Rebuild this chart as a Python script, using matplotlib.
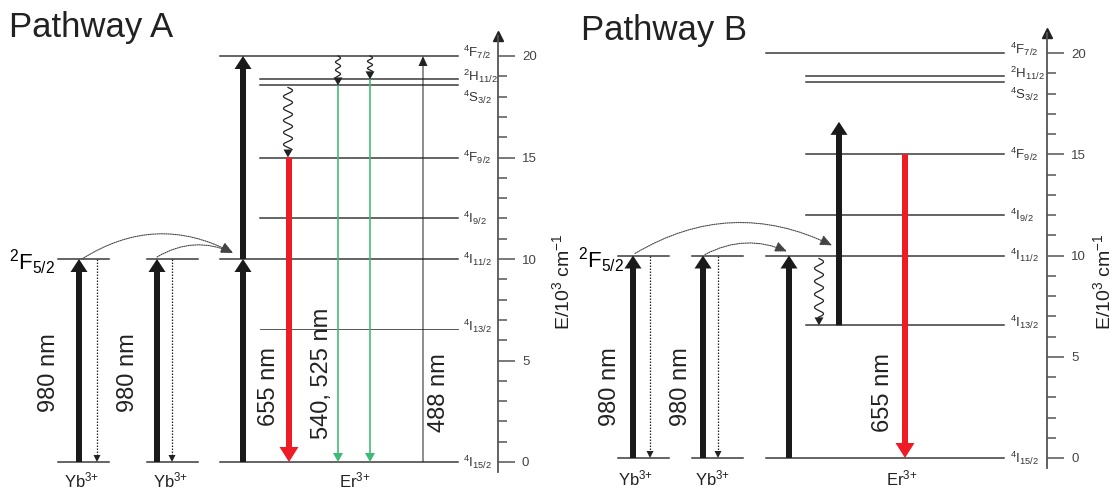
import numpy as np
import matplotlib
matplotlib.use('Agg')
import matplotlib.pyplot as plt
from matplotlib.patches import FancyArrowPatch, ArrowStyle

plt.rcParams['font.family'] = ['Liberation Sans', 'DejaVu Sans']
plt.rcParams['mathtext.fontset'] = 'custom'
plt.rcParams['mathtext.rm'] = 'Liberation Sans'
plt.rcParams['mathtext.it'] = 'Liberation Sans:italic'
plt.rcParams['mathtext.bf'] = 'Liberation Sans:bold'

W, H = 1116, 491
PX = 0.72  # points per pixel at dpi 100

# ---- data: Er3+ levels (10^3 cm^-1) ----
LEVEL_NAMES = [r'$^4$F$_{7/2}$', r'$^2$H$_{11/2}$', r'$^4$S$_{3/2}$', r'$^4$F$_{9/2}$',
               r'$^4$I$_{9/2}$', r'$^4$I$_{11/2}$', r'$^4$I$_{13/2}$', r'$^4$I$_{15/2}$']
LEVEL_E = [20.0, 18.85, 18.55, 15.0, 12.0, 10.0, 6.55, 0.0]
LONG_LEVELS = [0, 5, 7]          # lines drawn wider (reach the Yb side)
LABEL_SHIFT = [0.2, 0.15, -0.6, 0.0, 0.0, 0.0, 0.15, 0.0]

YB_E = 10.0                       # 2F5/2
YB_LABEL = r'$^2$F$_{5/2}$'
ESA_B_TOP = 16.6                  # pathway B ESA arrow end
AXIS_TICKS = [0, 5, 10, 15, 20]
PUMP = '980 nm'
RED = '655 nm'
GREEN = '540, 525 nm'
BLUE = '488 nm'
YB_ION = r'Yb$^{3{+}}$'
ER_ION = r'Er$^{3{+}}$'
E_LABEL = r'E/10$^3$ cm$^{-1}$'

LINE_C = '#3a3a3a'
AXIS_C = '#555555'
RED_C = '#ee1c25'
GREEN_C = '#3dbb75'


def arrow(ax, x, e0, e1, color, tail, hw, hl, z=3):
    st = ArrowStyle.Simple(head_length=hl * PX, head_width=hw * PX, tail_width=max(tail, 0.01) * PX)
    ax.add_patch(FancyArrowPatch((x, e0), (x, e1), arrowstyle=st, mutation_scale=1,
                                 color=color, lw=0, shrinkA=0, shrinkB=0, zorder=z))


def dotted_down(ax, x, e0, e1, ppu):
    hl = 7 / ppu
    ax.plot([x, x], [e0, e1 + hl], ls=(0, (1.2, 1.2)), lw=0.9, color='#222222')
    arrow(ax, x, e1 + hl, e1, '#222222', 0, 7, 7)


def wavy(ax, x, e0, e1, ppu, amp=4.0, period=12.0):
    hl = 8 / ppu
    e = np.linspace(e0, e1 + hl, 300)
    d = np.abs(e - e0) * ppu
    ax.plot(x + amp * np.sin(2 * np.pi * d / period), e, color='#222222', lw=0.9)
    arrow(ax, x, e1 + hl, e1, '#222222', 0, 9, 8)


def arc(ax, p0, p1, rad):
    ax.add_patch(FancyArrowPatch(p0, p1, connectionstyle=f'arc3,rad={rad}',
                                 arrowstyle='-|>,head_length=0.45,head_width=0.2',
                                 mutation_scale=16, ls=(0, (1, 1)), lw=0.8,
                                 color='#444444', shrinkA=0, shrinkB=0, zorder=4))


def setup(fig, x0, x1, zero_px, ppu, axis_x, ylab_x):
    ax = fig.add_axes([x0 / W, 0, (x1 - x0) / W, 1])
    ax.set_xlim(x0, x1)
    ax.set_ylim((zero_px - H) / ppu, zero_px / ppu)
    ax.patch.set_visible(False)
    for s in ['left', 'top', 'bottom']:
        ax.spines[s].set_visible(False)
    ax.set_xticks([])
    ax.yaxis.tick_right()
    sp = ax.spines['right']
    sp.set_position(('data', axis_x))
    sp.set_bounds(-0.5, 21.0)
    sp.set_color(AXIS_C)
    sp.set_linewidth(1.3)
    ax.set_yticks(AXIS_TICKS)
    ax.set_yticks(np.arange(0, 21, 1), minor=True)
    ax.tick_params(axis='y', which='major', length=17 * PX, width=1.1, color=AXIS_C,
                   labelcolor='#444444', labelsize=9.5, pad=7 * PX, direction='out')
    ax.tick_params(axis='y', which='minor', length=9 * PX, width=1.1, color=AXIS_C, direction='out')
    ax.plot([axis_x], [21.0], marker='^', ms=7, color='#222222', clip_on=False)
    ax.text(ylab_x, (zero_px - 282) / ppu, E_LABEL, fontsize=14, rotation=90,
            ha='center', va='center', color='#222222')
    return ax


def er_levels(ax, left, inner, right, label_x, thin=None):
    for i, (name, e) in enumerate(zip(LEVEL_NAMES, LEVEL_E)):
        xs = left if i in LONG_LEVELS else inner
        lw = 0.6 if i == thin else 1.1
        ax.plot([xs, right], [e, e], color=LINE_C, lw=lw)
        ax.text(label_x, e + LABEL_SHIFT[i], name, fontsize=9.5, color='#333333',
                ha='left', va='center')


def yb_column(ax, l, r, ax_x, dot_x, ppu):
    ax.plot([l, r], [0, 0], color=LINE_C, lw=1.1)
    ax.plot([l, r], [YB_E, YB_E], color=LINE_C, lw=1.1)
    arrow(ax, ax_x, 0, YB_E, '#1a1a1a', 6, 17, 13)
    dotted_down(ax, dot_x, YB_E, 0, ppu)


fig = plt.figure(figsize=(W / 100, H / 100), dpi=100)

# ---------------- Pathway A ----------------
ppu = 20.3
a = setup(fig, 0, 558, 462, ppu, 498, 562)
er_levels(a, 220, 260, 458, 463, thin=6)
yb_column(a, 58, 109, 79, 97, ppu)
yb_column(a, 147, 198, 157, 172, ppu)
arrow(a, 243, 0, LEVEL_E[5], '#1a1a1a', 6, 17, 13)
arrow(a, 243, LEVEL_E[5], LEVEL_E[0], '#1a1a1a', 6, 17, 13)
wavy(a, 288, LEVEL_E[2] - 0.1, LEVEL_E[3], ppu, amp=4.5, period=12)
arrow(a, 289, LEVEL_E[3], 0, RED_C, 6, 19, 15)
wavy(a, 338, LEVEL_E[0], LEVEL_E[2], ppu, amp=2.5, period=8)
wavy(a, 370, LEVEL_E[0], LEVEL_E[1], ppu, amp=2.5, period=7)
arrow(a, 338, LEVEL_E[2], 0, GREEN_C, 1.6, 10, 9)
arrow(a, 370, LEVEL_E[1], 0, GREEN_C, 1.6, 10, 9)
arrow(a, 423, 0, LEVEL_E[0], '#222222', 1.0, 9, 10)
arc(a, (82, YB_E), (233, YB_E + 0.3), -0.29)
arc(a, (157, YB_E + 0.1), (233, YB_E + 0.3), -0.26)

a.text(9, (462 - 27) / ppu, 'Pathway A', fontsize=25, ha='left', va='center', color='#222222')
a.text(55, (462 - 262) / ppu, YB_LABEL, fontsize=16, ha='right', va='center')
for x, y, s in [(49, 373, PUMP), (128, 373, PUMP), (269, 387, RED), (322, 373, GREEN), (439, 393, BLUE)]:
    a.text(x, (462 - y) / ppu, s, rotation=90, fontsize=17, ha='center', va='center', color='#222222')
for x, s in [(82, YB_ION), (171, YB_ION), (355, ER_ION)]:
    a.text(x, (462 - 480) / ppu, s, fontsize=12, ha='center', va='center', color='#222222')

# ---------------- Pathway B ----------------
ppu = 20.25
b = setup(fig, 558, 1116, 458, ppu, 1047, 1103)
er_levels(b, 766, 806, 1004, 1010)
yb_column(b, 618, 669, 633, 650, ppu)
yb_column(b, 692, 743, 703, 718, ppu)
arrow(b, 789, 0, LEVEL_E[5], '#1a1a1a', 6, 17, 13)
wavy(b, 819, LEVEL_E[5] - 0.15, LEVEL_E[6], ppu, amp=4.5, period=13)
arrow(b, 839, LEVEL_E[6], ESA_B_TOP, '#1a1a1a', 6, 17, 13)
arrow(b, 905, LEVEL_E[3], 0, RED_C, 6, 19, 15)
arc(b, (635, YB_E + 0.1), (832, YB_E + 0.5), -0.27)
arc(b, (705, YB_E + 0.05), (787, YB_E + 0.2), -0.24)

b.text(581, (458 - 30) / ppu, 'Pathway B', fontsize=25, ha='left', va='center', color='#222222')
b.text(624, (458 - 260) / ppu, YB_LABEL, fontsize=16, ha='right', va='center')
for x, y, s in [(610, 387, PUMP), (681, 387, PUMP), (883, 393, RED)]:
    b.text(x, (458 - y) / ppu, s, rotation=90, fontsize=17, ha='center', va='center', color='#222222')
for x, s in [(636, YB_ION), (713, YB_ION), (902, ER_ION)]:
    b.text(x, (458 - 478) / ppu, s, fontsize=12, ha='center', va='center', color='#222222')

fig.savefig('out.png', dpi=100)
